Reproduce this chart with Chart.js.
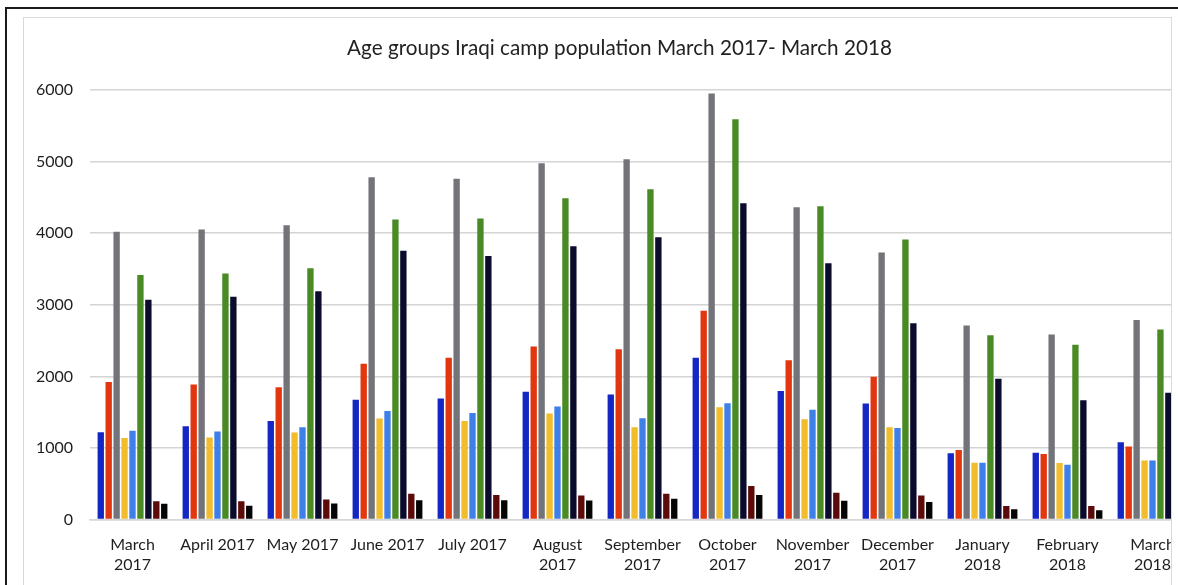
<!DOCTYPE html>
<html>
<head>
<meta charset="utf-8">
<script src="https://cdn.jsdelivr.net/npm/chart.js@4"></script>
<style>
    html, body { margin: 0; padding: 0; background: #fff; overflow: hidden; }
    body { width: 1178px; height: 585px; position: relative; }
    #frame {
        position: absolute; left: 5px; top: 7px; width: 1200px; height: 640px;
        border: 2px solid #1a1a1a; box-sizing: border-box;
    }
    #panel {
        position: absolute; left: 23px; top: 17px; width: 1149px; height: 600px;
        border: 1px solid #d9d9d9;
        box-sizing: border-box; overflow: hidden; background: #fff;
    }
    #chart { position: absolute; left: -1px; top: -1px; }
</style>
</head>
<body>
<div id="frame"></div>
<div id="panel"><canvas id="chart" width="1194" height="573"></canvas></div>
<script>
// Categories (x axis)
const months = [['March', '2017'], 'April 2017', 'May 2017', 'June 2017', 'July 2017',
    ['August', '2017'], ['September', '2017'], ['October', '2017'], ['November', '2017'],
    ['December', '2017'], ['January', '2018'], ['February', '2018'], ['March', '2018']];

// Series values, one array per age group
const group1 = [1220, 1305, 1375, 1675, 1690, 1785, 1745, 2260, 1795, 1620, 925, 935, 1080];
const group2 = [1920, 1885, 1848, 2175, 2260, 2415, 2378, 2915, 2225, 1995, 970, 915, 1020];
const group3 = [4020, 4050, 4110, 4780, 4760, 4975, 5030, 5950, 4360, 3730, 2710, 2585, 2785];
const group4 = [1140, 1145, 1215, 1410, 1375, 1482, 1288, 1570, 1400, 1290, 795, 790, 825];
const group5 = [1240, 1230, 1288, 1515, 1490, 1580, 1415, 1625, 1535, 1280, 795, 765, 825];
const group6 = [3415, 3435, 3510, 4190, 4205, 4488, 4612, 5590, 4376, 3910, 2575, 2440, 2655];
const group7 = [3070, 3110, 3187, 3755, 3680, 3818, 3942, 4415, 3580, 2740, 1965, 1665, 1770];
const group8 = [255, 255, 280, 360, 345, 336, 362, 470, 376, 335, 190, 190, 200];
const group9 = [220, 195, 225, 270, 270, 266, 292, 345, 264, 245, 145, 130, 150];

// Y axis ticks
const yTicks = [0, 1000, 2000, 3000, 4000, 5000, 6000];

const seriesList = [group1, group2, group3, group4, group5, group6, group7, group8, group9];
const colors = ['#1427c2', '#e1360e', '#737479', '#f1bd2c', '#3f7fe8', '#4a8a25', '#0b0b2e', '#5c0a0a', '#050505'];

const datasets = seriesList.map((values, i) => ({
    label: 'Age group ' + (i + 1),
    data: values,
    backgroundColor: colors[i],
    borderWidth: 0,
    categoryPercentage: 0.84,
    barPercentage: 0.8
}));

const fontFamily = 'Lato, "Open Sans", sans-serif';

// the original title sits a bit right of the canvas centre
const titleShift = {
    id: 'titleShift',
    afterLayout(chart) {
        if (chart.titleBlock) chart.titleBlock.left += 12;
    }
};

new Chart(document.getElementById('chart'), {
    type: 'bar',
    data: { labels: months, datasets: datasets },
    plugins: [titleShift],
    options: {
        responsive: false,
        animation: false,
        layout: { padding: { left: 9, right: 22, top: 0, bottom: 0 } },
        plugins: {
            legend: { display: false },
            tooltip: { enabled: false },
            title: {
                display: true,
                text: 'Age groups Iraqi camp population March 2017- March 2018',
                color: '#222',
                font: { family: fontFamily, size: 20.7, weight: 'normal' },
                padding: { top: 19, bottom: 29 }
            }
        },
        scales: {
            x: {
                grid: { display: false, drawTicks: false },
                border: { display: true, color: '#d6d6d6', width: 1.5 },
                ticks: {
                    color: '#1e1e1e',
                    font: { family: fontFamily, size: 16 },
                    padding: 16,
                    maxRotation: 0,
                    autoSkip: false
                }
            },
            y: {
                min: 0,
                max: 6000,
                afterBuildTicks: (scale) => { scale.ticks = yTicks.map(v => ({ value: v })); },
                afterFit: (scale) => { scale.width = 58; },
                grid: { color: '#d4d4d4', lineWidth: 1.5, drawTicks: false },
                border: { display: false },
                ticks: {
                    color: '#1e1e1e',
                    font: { family: fontFamily, size: 16 },
                    padding: 17,
                    callback: (value) => String(value)
                }
            }
        }
    }
});
</script>
</body>
</html>
